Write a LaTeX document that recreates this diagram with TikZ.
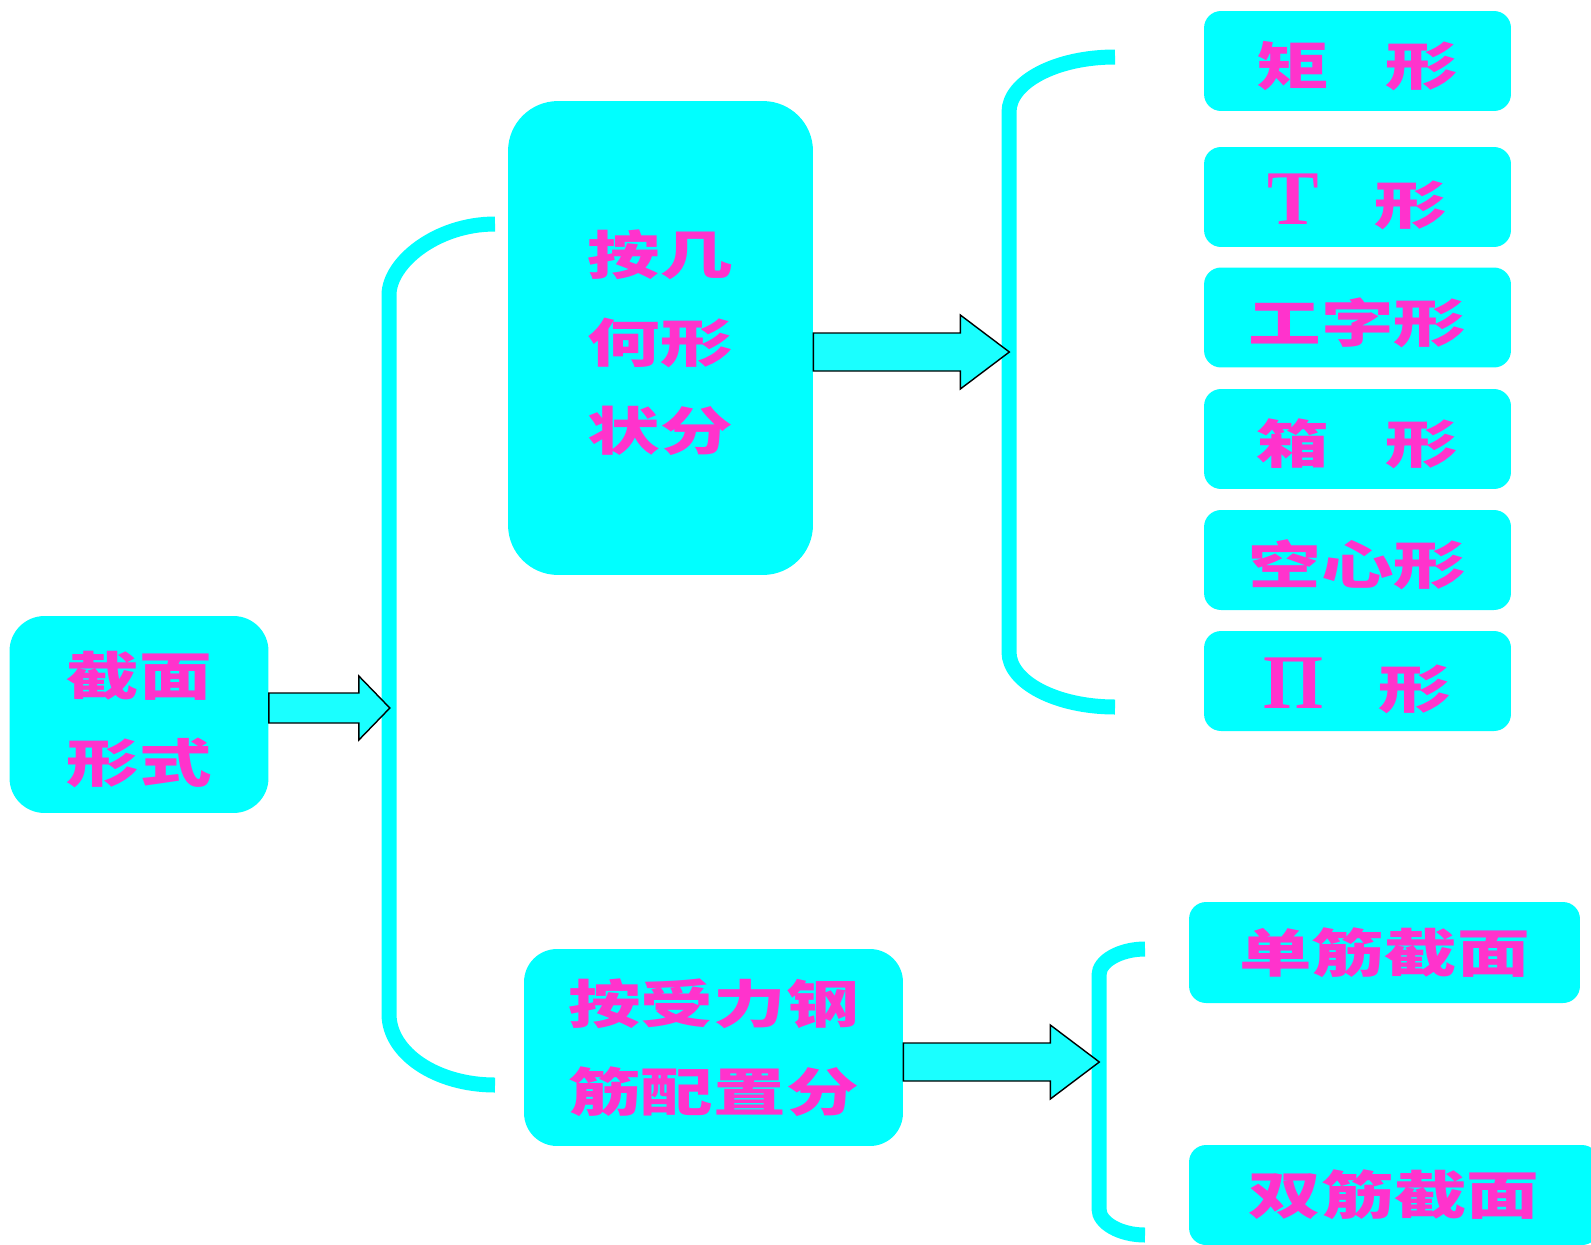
\documentclass[tikz,border=0pt]{standalone}
\usepackage{xcolor}
\usepackage{fontspec}
\setmainfont{Liberation Serif}
\newfontfamily\cjk{Noto Sans CJK SC}[FakeStretch=1.4]
\usepackage{tikz}
\usetikzlibrary{positioning}
\definecolor{boxcyan}{RGB}{0,255,255}
\definecolor{arrowcyan}{RGB}{26,255,255}
\definecolor{textpink}{RGB}{255,51,204}
\tikzset{
	every node/.style={ % text in all boxes
			inner sep=0pt,
			align=center,
			text=textpink,
			font=\cjk\bfseries\fontsize{29.5}{50}\selectfont
		},
	bigbox/.style={ % large rounded boxes
			fill=boxcyan,
			rounded corners=#1
		},
	smallbox/.style={ % boxes on the right
			fill=boxcyan,
			rounded corners=0.34cm,
			minimum height=2cm
		},
	brace/.style={ % thick bracket lines
			draw=boxcyan,
			line width=0.3cm
		},
	blockarrow/.style={ % hollow block arrows
			draw=black,
			fill=arrowcyan,
			line width=0.8pt,
			line join=miter
		}
}
\newcommand{\latin}[1]{{\rmfamily\bfseries\fontsize{44}{44}\selectfont #1}}
\newcommand{\low}[1]{\raisebox{-0.1cm}[\height][\depth]{#1}} % text sits a bit lower

\begin{document}
\begin{tikzpicture}[x=0.02cm, y=-0.02cm]
            \clip (0,0) rectangle (1591,1244);
            % left column
            \node[bigbox=0.7cm, minimum width=5.18cm, minimum height=3.94cm] (sec) at (139,714.5) {\low{截面}\\\low{形式}};
            % middle column
            \node[bigbox=1cm, minimum width=6.1cm, minimum height=9.48cm] (geom) at (660.5,338) {\low{按几}\\\low{何形}\\\low{状分}};
            \node[bigbox=0.66cm, minimum width=7.58cm, minimum height=3.94cm] (rebar) at (713.5,1047.5) {按受力钢\\筋配置分};
            % right column
            \foreach \y/\name/\txt in {61/rect/矩\hspace{1.1em}形,
                                       197/tee/\latin{T}\hspace{1.1cm}形,
                                       317.5/ibeam/工字形,
                                       439/boxsec/箱\hspace{1.1em}形,
                                       560/hollow/空心形,
                                       681/pisec/\latin{Π}\hspace{1.1cm}形}
                \node[smallbox, minimum width=6.14cm] (\name) at (1357.5,\y) {\low{\txt}};
            \node[smallbox, minimum width=7.82cm, minimum height=2.02cm] (single) at (1384.5,952.5) {单筋截面};
            \node[smallbox, minimum width=8.2cm] (double) at (1394,1195) {双筋截面};
            % brackets
            \draw[brace] (495,224) .. controls (436,224) and (389,263) .. (389,295)
                -- (389,1014) .. controls (389,1053) and (436,1085) .. (495,1085);
            \draw[brace] (1115,57) .. controls (1056,57) and (1009,82) .. (1009,112)
                -- (1009,652) .. controls (1009,682) and (1056,707) .. (1115,707);
            \draw[brace] (1145,949) .. controls (1120,949) and (1099,961) .. (1099,975)
                -- (1099,1209) .. controls (1099,1223) and (1120,1235) .. (1145,1235);
            % block arrows
            \draw[blockarrow] (sec.east |- 0,693) -- ++(90,0) -- ++(0,-17) -- ++(31,32)
                -- ++(-31,32) -- ++(0,-17) -- ++(-90,0) -- cycle;
            \draw[blockarrow] (geom.east |- 0,333) -- ++(147,0) -- ++(0,-18) -- ++(49,37)
                -- ++(-49,37) -- ++(0,-18) -- ++(-147,0) -- cycle;
            \draw[blockarrow] (rebar.east |- 0,1043) -- ++(147,0) -- ++(0,-18) -- ++(49,37)
                -- ++(-49,37) -- ++(0,-18) -- ++(-147,0) -- cycle;
        \end{tikzpicture}
\end{document}
